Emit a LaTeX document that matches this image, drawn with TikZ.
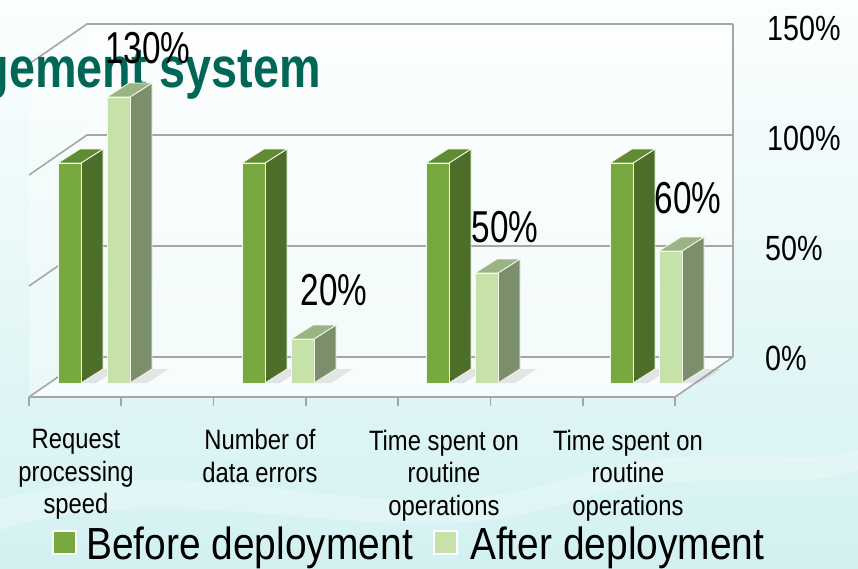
\documentclass[tikz,border=0pt]{standalone}
\usepackage{fontspec}
\setmainfont{Liberation Sans}
\newfontfamily\fData[FakeStretch=0.745]{Liberation Sans}
\newfontfamily\fAxis[FakeStretch=0.82]{Liberation Sans}
\newfontfamily\fCat[FakeStretch=0.85]{Liberation Sans}
\newfontfamily\fLeg[FakeStretch=0.865]{Liberation Sans}
\newfontfamily\fTitle[FakeStretch=0.82]{Liberation Sans}
\definecolor{bgtop}{HTML}{FBFEFE}
\definecolor{bgmid}{HTML}{F1FBFB}
\definecolor{bgbot}{HTML}{D3F1F1}
\definecolor{gridc}{HTML}{A6A6A6}
\definecolor{bfront}{HTML}{78A940}
\definecolor{bside}{HTML}{4E6D29}
\definecolor{btop}{HTML}{5F8B31}
\definecolor{afront}{HTML}{C6E2A8}
\definecolor{aside}{HTML}{7C8F6C}
\definecolor{atop}{HTML}{9AB583}
\definecolor{titlec}{HTML}{006656}
\begin{document}
\begin{tikzpicture}[x=1pt,y=-1pt,
  gridline/.style={draw=gridc, line width=1.6pt},
  baredge/.style={draw=white!80!afront, line width=0.8pt, line join=round},
  datalbl/.style={font=\fData\fontsize{44.7}{48}\selectfont, inner sep=0, anchor=base},
  axislbl/.style={font=\fAxis\fontsize{35}{38}\selectfont, inner sep=0, anchor=base west},
  catlbl/.style={font=\fCat\fontsize{28}{32.5}\selectfont, inner sep=0, anchor=north, align=center},
  leglbl/.style={font=\fLeg\fontsize{45}{48}\selectfont, inner sep=0, anchor=base west},
  legkey/.style={draw=white, line width=2pt, minimum size=23pt, inner sep=0},
  shadowc/.style={fill=gray, opacity=0.18}]
\useasboundingbox (0,0) rectangle (858,568);
\clip (0,0) rectangle (858,568);
% background
\shade[top color=bgtop, middle color=bgmid, bottom color=bgbot] (0,0) rectangle (858,568);
\fill[white, opacity=0.25] (0,500) .. controls (200,440) and (380,540) .. (560,480) .. controls (700,435) and (800,470) .. (858,450) -- (858,470) .. controls (790,495) and (700,460) .. (560,505) .. controls (380,560) and (200,470) .. (0,530) -- cycle;
% walls and floor
\fill[white, opacity=0.6] (87,24) -- (733,24) -- (733,357) -- (87,357) -- cycle;
\fill[white, opacity=0.35] (29,64) -- (87,24) -- (87,357) -- (29,397) -- cycle;
\fill[white, opacity=0.75] (29,397) -- (675,397) -- (733,357) -- (87,357) -- cycle;
% grid
\foreach \v in {0,50,100,150} {
  \pgfmathsetmacro\yy{357-2.22*\v}
  \draw[gridline] (29,{\yy+40}) -- (87,\yy) -- (733,\yy);
}
\draw[gridline] (733,24) -- (733,357);
\draw[gridline] (29,397) -- (675,397) -- (733,357);
\foreach \k in {0,...,7} \draw[gridline] ({29+92.29*\k},397) -- ++(0,9);
% title
\node[font=\fTitle\bfseries\fontsize{57}{60}\selectfont, text=titlec, anchor=base east, inner sep=0] (title) at (321,87) {gement\hspace{13pt}system};
% bars
\foreach \i/\av in {0/130,1/20,2/50,3/60} {
  \pgfmathsetmacro\xb{58+184*\i}
  \pgfmathsetmacro\xa{107+184*\i}
  \pgfmathsetmacro\hb{383-2.2*100}
  \pgfmathsetmacro\ha{383-2.2*\av}
  % shadows
  \fill[shadowc] ({\xb+23},383) -- ({\xb+45},369) -- ({\xb+60},369) -- ({\xb+38},383) -- cycle;
  \fill[shadowc] ({\xa+23},383) -- ({\xa+45},369) -- ({\xa+62},369) -- ({\xa+40},383) -- cycle;
  % before bar
  \filldraw[baredge, fill=bside] ({\xb+23},383) -- ({\xb+45},369) -- ({\xb+45},{\hb-14}) -- ({\xb+23},\hb) -- cycle;
  \filldraw[baredge, fill=btop] (\xb,\hb) -- ({\xb+23},\hb) -- ({\xb+45},{\hb-14}) -- ({\xb+22},{\hb-14}) -- cycle;
  \filldraw[baredge, fill=bfront] (\xb,383) rectangle ({\xb+23},\hb);
  % after bar
  \filldraw[baredge, fill=aside] ({\xa+23},383) -- ({\xa+45},369) -- ({\xa+45},{\ha-14}) -- ({\xa+23},\ha) -- cycle;
  \filldraw[baredge, fill=atop] (\xa,\ha) -- ({\xa+23},\ha) -- ({\xa+45},{\ha-14}) -- ({\xa+22},{\ha-14}) -- cycle;
  \filldraw[baredge, fill=afront] (\xa,383) rectangle ({\xa+23},\ha);
}
% data labels
\node[datalbl] (d1) at (148,63) {130\%};
\node[datalbl] (d2) at (334,305) {20\%};
\node[datalbl] (d3) at (505,242) {50\%};
\node[datalbl] (d4) at (688,213) {60\%};
% axis labels
\node[axislbl] (y150) at (767,40) {150\%};
\node[axislbl] (y100) at (767,150) {100\%};
\node[axislbl] (y50) at (765,260) {50\%};
\node[axislbl] (y0) at (765,370) {0\%};
% category labels
\node[catlbl] (c1) at (76,429.5) {Request\\processing\\speed};
\node[catlbl] (c2) at (260,429.5) {Number of\\data errors};
\node[catlbl] (c3) at (444,429.5) {Time spent on\\routine\\operations};
\node[catlbl] (c4) at (628,429.5) {Time spent on\\routine\\operations};
% legend
\node[legkey, fill=bfront] (kb) at (64.5,542.5) {};
\node[leglbl] (tb) at (86,559) {Before deployment};
\node[legkey, fill=afront] (ka) at (445.5,542.5) {};
\node[leglbl] (ta) at (470,559) {After deployment};
\end{tikzpicture}
\end{document}
